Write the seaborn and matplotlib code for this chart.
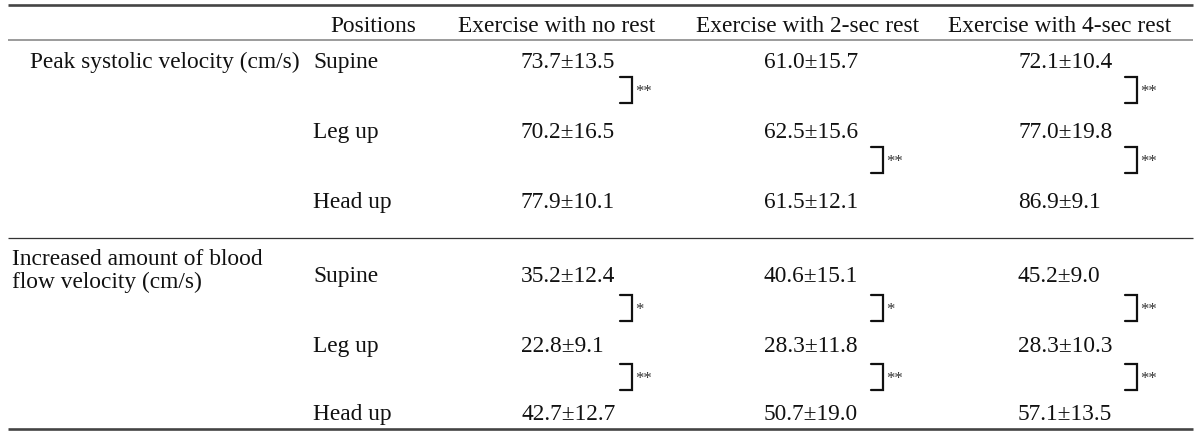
import numpy as np
import pandas as pd
import matplotlib
matplotlib.use("Agg")
import matplotlib.pyplot as plt
import seaborn as sns

# ---------------- data ----------------
measures = ["Peak systolic velocity (cm/s)",
            "Increased amount of blood\nflow velocity (cm/s)"]
positions = ["Supine", "Leg up", "Head up"]
conditions = ["Exercise with no rest", "Exercise with 2-sec rest", "Exercise with 4-sec rest"]
position_header = "Positions"

# rows = positions, columns = conditions
psv_mean = [[73.7, 61.0, 72.1],
            [70.2, 62.5, 77.0],
            [77.9, 61.5, 86.9]]
psv_sd = [[13.5, 15.7, 10.4],
          [16.5, 15.6, 19.8],
          [10.1, 12.1, 9.1]]
inc_mean = [[35.2, 40.6, 45.2],
            [22.8, 28.3, 28.3],
            [42.7, 50.7, 57.1]]
inc_sd = [[12.4, 15.1, 9.0],
          [9.1, 11.8, 10.3],
          [12.7, 19.0, 13.5]]
# significance between adjacent positions: [Supine-Leg up, Leg up-Head up] x conditions
psv_sig = [["**", "", "**"],
           ["", "**", "**"]]
inc_sig = [["*", "*", "**"],
           ["**", "**", "**"]]

blocks = [(measures[0], psv_mean, psv_sd, psv_sig),
          (measures[1], inc_mean, inc_sd, inc_sig)]

# ---------------- layout (pixel coordinates, baselines) ----------------
W, H = 1200, 434
FS = 16.8
TXT = "#111111"
header_base = 32
row_base = [[68, 138, 208], [282, 352, 420]]
pair_y = [[90, 160], [308, 377]]
measure_x = [30, 12]
measure_base = [68, 265]
line_step = 23
pos_x = 313
pos_head_x = 330
header_cx = [557, 808, 1060]
value_x = [521, 764, 1018]
bracket_x = [632, 883, 1137]
bracket_w = 12
bracket_h = 26

sns.set_theme(style="white")
plt.rcParams["font.family"] = ["Liberation Serif", "DejaVu Serif"]

fig = plt.figure(figsize=(12, 4.34), dpi=100)
ax = fig.add_axes([0, 0, 1, 1])
ax.set_xlim(0, W)
ax.set_ylim(H, 0)
ax.axis("off")

# rules
ax.plot([8, 1193], [5, 5], color="#444444", lw=1.9, solid_capstyle="butt")
ax.plot([8, 1193], [40, 40], color="#8a8a8a", lw=1.2, solid_capstyle="butt")
ax.plot([8, 1193], [238, 238], color="#333333", lw=0.9, solid_capstyle="butt")
ax.plot([8, 1193], [429, 429], color="#444444", lw=1.9, solid_capstyle="butt")

# header
ax.text(pos_head_x, header_base, position_header, fontsize=FS, color=TXT, ha="left", va="baseline")
for cx, c in zip(header_cx, conditions):
    ax.text(cx, header_base, c, fontsize=FS, color=TXT, ha="center", va="baseline")

for b, (mname, means, sds, sig) in enumerate(blocks):
    for i, line in enumerate(mname.split("\n")):
        ax.text(measure_x[b], measure_base[b] + i * line_step, line, fontsize=FS,
                color=TXT, ha="left", va="baseline")
    for r, p in enumerate(positions):
        y = row_base[b][r]
        ax.text(pos_x, y, p, fontsize=FS, color=TXT, ha="left", va="baseline")
        for c in range(len(conditions)):
            ax.text(value_x[c], y, f"{means[r][c]:.1f}\u00b1{sds[r][c]:.1f}",
                    fontsize=FS, color=TXT, ha="left", va="baseline")
    for k in range(2):
        yc = pair_y[b][k]
        for c in range(len(conditions)):
            s = sig[k][c]
            if not s:
                continue
            xv = bracket_x[c]
            y0, y1 = yc - bracket_h / 2, yc + bracket_h / 2
            ax.plot([xv - bracket_w, xv, xv, xv - bracket_w], [y0, y0, y1, y1],
                    color="#111111", lw=1.6, solid_joinstyle="miter")
            ax.text(xv + 3, yc + 6, s, fontsize=12, color="#333333", ha="left", va="baseline")

fig.savefig("out.png", dpi=100)
